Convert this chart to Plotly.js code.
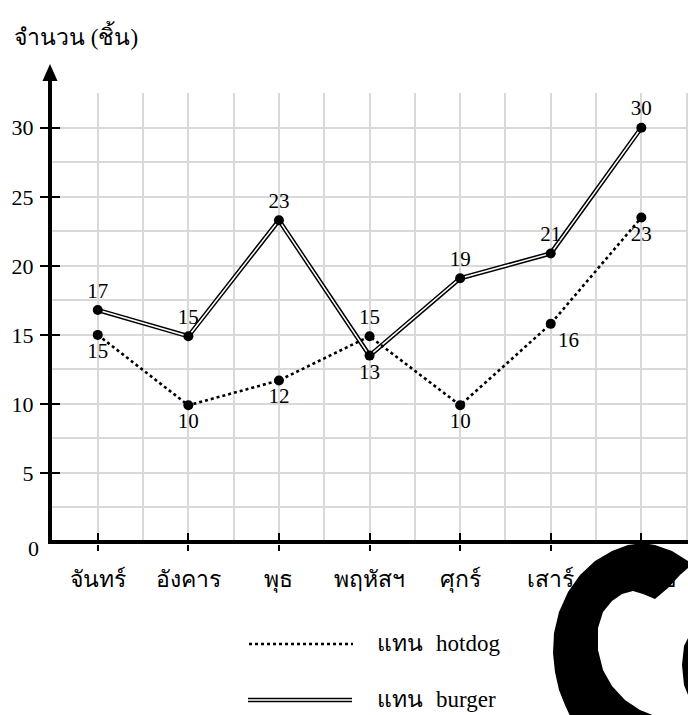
<!DOCTYPE html>
<html>
<head>
<meta charset="utf-8">
<script src="https://cdn.plot.ly/plotly-3.0.1.min.js"></script>
<style>html,body{margin:0;padding:0;background:#fff;}#chart{width:688px;height:715px;}</style>
</head>
<body>
<div id="chart"></div>
<script>
// ---- data ----
const days = ['จันทร์', 'อังคาร', 'พุธ', 'พฤหัสฯ', 'ศุกร์', 'เสาร์', 'อาทิตย์'];
const hotdog = [15.0, 9.9, 11.7, 14.9, 9.9, 15.8, 23.5];
const hotdogLabels = ['15', '10', '12', '15', '10', '16', '23'];
const burger = [16.8, 14.9, 23.3, 13.5, 19.1, 20.9, 30.0];
const burgerLabels = ['17', '15', '23', '13', '19', '21', '30'];
const yTicks = [5, 10, 15, 20, 25, 30];
const yTitle = 'จำนวน (ชิ้น)';
const legendWord = 'แทน';
const seriesNames = ['hotdog', 'burger'];

// ---- styles ----
const hotdogLabelPos = ['bottom center', 'bottom center', 'bottom center', 'top center', 'bottom center', 'bottom right', 'bottom center'];
const burgerLabelPos = ['top center', 'top center', 'top center', 'bottom center', 'top center', 'top center', 'top center'];

const W = 688, H = 715, L = 52, T = 93, B = 171, R = 0;
const pw = W - L - R, ph = H - T - B;
const px = v => (v - L) / pw;
const py = v => (H - B - v) / ph;
const pathPx = pts => 'M ' + pts.map(p => px(p[0]).toFixed(5) + ',' + py(p[1]).toFixed(5)).join(' L ') + ' Z';

const serif = 'Liberation Serif, Noto Sans, DejaVu Sans, serif';
const xi = days.map((d, i) => i);
const xRange = [-0.505, 6.515];
const yRange = [-0.145, 32.52];

const traces = [
  {x: xi, y: burger, mode: 'lines', line: {color: '#000', width: 4.5}, hoverinfo: 'skip', showlegend: false},
  {x: xi, y: burger, mode: 'lines', line: {color: '#fff', width: 1.5}, hoverinfo: 'skip', showlegend: false},
  {x: xi, y: hotdog, mode: 'lines', line: {color: '#000', width: 2.6, dash: 'dot'}, hoverinfo: 'skip', showlegend: false},
  {x: xi, y: hotdog, mode: 'markers+text', marker: {color: '#000', size: 10}, text: hotdogLabels,
   textposition: hotdogLabelPos, textfont: {family: serif, size: 21, color: '#000'}, cliponaxis: false, showlegend: false},
  {x: xi, y: burger, mode: 'markers+text', marker: {color: '#000', size: 10}, text: burgerLabels,
   textposition: burgerLabelPos, textfont: {family: serif, size: 21, color: '#000'}, cliponaxis: false, showlegend: false},
  {x: [], y: [], xaxis: 'x2', yaxis: 'y2', showlegend: false, hoverinfo: 'skip'}
];

const blob = pathPx([
  [688,561],[672,551],[655,545],[643,543],[628,545],[612,551],[595,561],[580,575],[568,592],[559,612],
  [554,633],[553,653],[555,672],[559,690],[565,705],[570,716],[655,716],
  [640,710],[625,700],[612,686],[603,670],[598,650],[598,628],[603,612],[612,601],[622,594],[633,591],
  [643,594],[655,599],[668,588],[680,575],[688,568]
]);
const blobArm = pathPx([[688,638],[684,646],[682,665],[684,685],[688,695]]);

const layout = {
  width: W, height: H,
  margin: {l: L, r: R, t: T, b: B, pad: 0},
  paper_bgcolor: '#fff', plot_bgcolor: '#fff',
  showlegend: false,
  font: {family: serif, color: '#000'},
  xaxis: {
    range: xRange, tickmode: 'array', tickvals: xi, ticktext: days,
    ticks: 'outside', ticklen: 6, tickwidth: 2, tickcolor: '#000',
    showgrid: true, gridcolor: '#d9d9d9', gridwidth: 2,
    minor: {dtick: 0.5, tick0: 0, showgrid: true, gridcolor: '#d9d9d9', gridwidth: 2, ticks: ''},
    showline: false, zeroline: false,
    tickfont: {family: serif, size: 23, color: '#000'}, ticklabelstandoff: 8, fixedrange: true
  },
  yaxis: {
    range: yRange, tickmode: 'array', tickvals: yTicks,
    ticks: 'outside', ticklen: 8, tickwidth: 2, tickcolor: '#000',
    showgrid: true, gridcolor: '#d9d9d9', gridwidth: 2,
    minor: {dtick: 2.5, tick0: 0, showgrid: true, gridcolor: '#d9d9d9', gridwidth: 2, ticks: ''},
    showline: true, linecolor: '#000', linewidth: 4,
    zeroline: true, zerolinecolor: '#000', zerolinewidth: 4,
    tickfont: {family: serif, size: 22, color: '#000'}, ticklabelstandoff: 2, fixedrange: true
  },
  xaxis2: {
    overlaying: 'x', anchor: 'y2', range: xRange, tickmode: 'array', tickvals: xi,
    ticks: 'inside', ticklen: 11, tickwidth: 2, tickcolor: '#000',
    showticklabels: false, showgrid: false, zeroline: false, showline: false, fixedrange: true
  },
  yaxis2: {
    overlaying: 'y', anchor: 'x2', range: yRange, tickmode: 'array', tickvals: yTicks,
    ticks: 'inside', ticklen: 8, tickwidth: 2, tickcolor: '#000',
    showticklabels: false, showgrid: false, zeroline: false, showline: false, fixedrange: true
  },
  shapes: [
    {type: 'line', xref: 'paper', yref: 'paper', x0: px(50), x1: px(50), y0: 1, y1: py(76), line: {color: '#000', width: 4}},
    {type: 'path', xref: 'paper', yref: 'paper', path: pathPx([[50,64],[42.5,81],[57.5,81]]), fillcolor: '#000', line: {width: 0}},
    {type: 'line', xref: 'paper', yref: 'paper', x0: px(249), x1: px(353), y0: py(644), y1: py(644), line: {color: '#000', width: 2.6, dash: 'dot'}},
    {type: 'line', xref: 'paper', yref: 'paper', x0: px(248), x1: px(352), y0: py(700), y1: py(700), line: {color: '#000', width: 4.5}},
    {type: 'line', xref: 'paper', yref: 'paper', x0: px(248), x1: px(352), y0: py(700), y1: py(700), line: {color: '#fff', width: 1.5}},
    {type: 'path', xref: 'paper', yref: 'paper', path: blob, fillcolor: '#000', line: {width: 0}, layer: 'above'},
    {type: 'path', xref: 'paper', yref: 'paper', path: blobArm, fillcolor: '#000', line: {width: 0}, layer: 'above'}
  ],
  annotations: [
    {text: yTitle, xref: 'paper', yref: 'paper', x: px(12), y: py(36), xanchor: 'left', yanchor: 'middle', showarrow: false, font: {family: serif, size: 23, color: '#000'}},
    {text: '0', xref: 'paper', yref: 'paper', x: px(33), y: py(548), xanchor: 'center', yanchor: 'middle', showarrow: false, font: {family: serif, size: 22, color: '#000'}},
    {text: legendWord, xref: 'paper', yref: 'paper', x: px(375), y: py(643), xanchor: 'left', yanchor: 'middle', showarrow: false, font: {family: serif, size: 23, color: '#000'}},
    {text: seriesNames[0], xref: 'paper', yref: 'paper', x: px(434), y: py(643), xanchor: 'left', yanchor: 'middle', showarrow: false, font: {family: serif, size: 23, color: '#000'}},
    {text: legendWord, xref: 'paper', yref: 'paper', x: px(375), y: py(699), xanchor: 'left', yanchor: 'middle', showarrow: false, font: {family: serif, size: 23, color: '#000'}},
    {text: seriesNames[1], xref: 'paper', yref: 'paper', x: px(434), y: py(699), xanchor: 'left', yanchor: 'middle', showarrow: false, font: {family: serif, size: 23, color: '#000'}}
  ]
};

Plotly.newPlot('chart', traces, layout, {displayModeBar: false, staticPlot: true});
</script>
</body>
</html>
